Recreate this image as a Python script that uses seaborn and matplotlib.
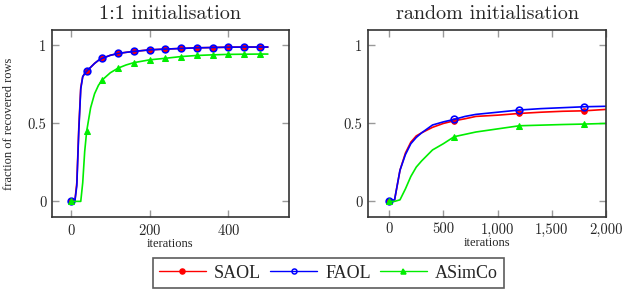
import numpy as np
import pandas as pd
import seaborn as sns
import matplotlib.pyplot as plt
from matplotlib.lines import Line2D
from matplotlib.ticker import FuncFormatter

# 1:1 initialisation (left panel)
x_left = [0, 10, 15, 20, 25, 30, 35, 40, 50, 60, 70, 80, 100, 120, 140, 160,
          200, 240, 280, 320, 360, 400, 440, 480, 500]
saol_left = [0, 0.0, 0.12, 0.47, 0.73, 0.8, 0.82, 0.835, 0.86, 0.885, 0.905, 0.918,
             0.937, 0.949, 0.956, 0.962, 0.972, 0.977, 0.981, 0.985, 0.987, 0.989,
             0.99, 0.99, 0.99]
faol_left = [0, 0.0, 0.1, 0.45, 0.72, 0.8, 0.82, 0.835, 0.86, 0.885, 0.905, 0.918,
             0.937, 0.949, 0.956, 0.962, 0.972, 0.977, 0.981, 0.985, 0.987, 0.989,
             0.99, 0.99, 0.99]
x_left_g = [0, 10, 20, 25, 30, 35, 40, 50, 60, 70, 80, 100, 120, 140, 160, 200,
            240, 280, 320, 360, 400, 440, 480, 500]
asimco_left = [0, 0, 0, 0.0, 0.12, 0.32, 0.45, 0.6, 0.69, 0.745, 0.78, 0.825, 0.855,
               0.875, 0.89, 0.908, 0.918, 0.929, 0.936, 0.94, 0.943, 0.944, 0.945, 0.945]
marks_left = list(range(0, 500, 40))

# random initialisation (right panel)
x_right = [0, 50, 100, 150, 200, 250, 300, 400, 500, 600, 700, 800, 1000, 1200,
           1400, 1600, 1800, 2000]
saol_right = [0, 0.01, 0.2, 0.31, 0.38, 0.42, 0.44, 0.475, 0.5, 0.517, 0.53, 0.545,
              0.553, 0.564, 0.572, 0.578, 0.581, 0.59]
faol_right = [0, 0.01, 0.2, 0.3, 0.37, 0.41, 0.44, 0.49, 0.51, 0.526, 0.545, 0.558,
              0.572, 0.586, 0.595, 0.601, 0.607, 0.61]
asimco_right = [0, 0, 0.01, 0.08, 0.16, 0.22, 0.26, 0.33, 0.37, 0.415, 0.43, 0.445,
                0.465, 0.485, 0.489, 0.493, 0.496, 0.5]
marks_right = [0, 600, 1200, 1800]

styles = {
    'SAOL': dict(color='red', marker='o', mfc='red', mec='red', ms=4),
    'FAOL': dict(color='blue', marker='o', mfc='none', mec='blue', ms=4.8, mew=1.2),
    'ASimCo': dict(color='#00ee00', marker='^', mfc='#00ee00', mec='#00ee00', ms=4.2),
}

sns.set_style('ticks')
plt.rcParams['font.family'] = ['cmr10', 'DejaVu Serif']
plt.rcParams['axes.formatter.use_mathtext'] = True

fig = plt.figure(figsize=(6.28, 2.96), dpi=100)
ax1 = fig.add_axes([0.0828, 0.267, 0.377, 0.632])
ax2 = fig.add_axes([0.586, 0.267, 0.379, 0.632])

panels = [
    (ax1, '1:1 initialisation', marks_left,
     [('SAOL', x_left, saol_left), ('FAOL', x_left, faol_left),
      ('ASimCo', x_left_g, asimco_left)]),
    (ax2, 'random initialisation', marks_right,
     [('SAOL', x_right, saol_right), ('FAOL', x_right, faol_right),
      ('ASimCo', x_right, asimco_right)]),
]

for ax, title, marks, series in panels:
    for name, xs, ys in series:
        st = dict(styles[name])
        every = [i for i, v in enumerate(xs) if v in marks]
        df = pd.DataFrame({'x': xs, 'y': ys})
        sns.lineplot(data=df, x='x', y='y', ax=ax, color=st.pop('color'),
                     marker=st.pop('marker'), markevery=every, lw=1.2,
                     markerfacecolor=st.pop('mfc'), markeredgecolor=st.pop('mec'),
                     markersize=st.pop('ms'), **st)
    ax.set_title(title, fontsize=14.5, pad=8)
    ax.set_ylim(-0.1, 1.1)
    ax.set_yticks([0, 0.5, 1])
    ax.yaxis.set_major_formatter(FuncFormatter(lambda v, p: f'{v:g}'))
    ax.set_xlabel('iterations', fontfamily='Liberation Serif', fontsize=9, labelpad=0)
    ax.set_ylabel('')
    ax.tick_params(direction='in', color='#999999', length=5, width=1,
                   top=True, right=True, labelsize=10.5, pad=4)
    for s in ax.spines.values():
        s.set_color('#333333')
        s.set_linewidth(1.2)

ax1.set_xlim(-48, 553)
ax1.set_xticks([0, 200, 400])
ax2.set_xlim(-195, 2000)
ax2.set_xticks([0, 500, 1000, 1500, 2000])
ax2.xaxis.set_major_formatter(FuncFormatter(lambda v, p: f'{int(v):,}'))
ax1.set_ylabel('fraction of recovered rows', fontfamily='Liberation Serif',
               fontsize=9, labelpad=9)

handles = []
for name in ['SAOL', 'FAOL', 'ASimCo']:
    st = styles[name]
    handles.append(Line2D([], [], color=st['color'], marker=st['marker'],
                          markerfacecolor=st['mfc'], markeredgecolor=st['mec'],
                          markersize=3.6, lw=1, mew=1.1))
leg = fig.legend(handles, ['SAOL', 'FAOL', 'ASimCo'], loc='center',
                 bbox_to_anchor=(0.523, 0.077), ncol=3, frameon=True,
                 fancybox=False, edgecolor='#333333', handlelength=2.6,
                 columnspacing=0.5, handletextpad=0.45, borderpad=0.35,
                 borderaxespad=0, prop={'family': 'Liberation Serif', 'size': 13})
leg.get_frame().set_linewidth(1.2)

fig.savefig('out.png', dpi=100)
